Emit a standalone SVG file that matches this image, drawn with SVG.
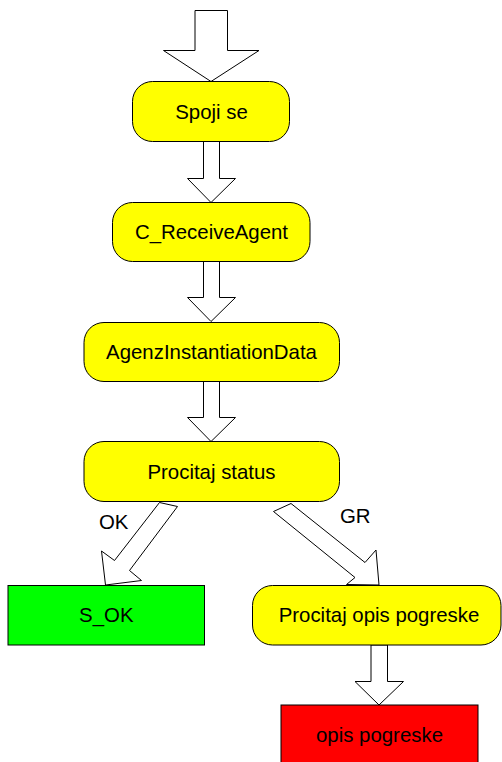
<svg xmlns="http://www.w3.org/2000/svg" width="502" height="762" viewBox="0 0 502 762">
  <style>
    .arrow { fill: #ffffff; stroke: #000000; stroke-width: 1; stroke-linejoin: miter; }
    .step { fill: #ffff00; stroke: #000000; stroke-width: 1; }
    .ok { fill: #00ff00; stroke: #000000; stroke-width: 1; }
    .err { fill: #ff0000; stroke: #000000; stroke-width: 1; }
    text { font-family: "Liberation Sans", Arial, sans-serif; font-size: 20.4px; fill: #000000; }
    .c { text-anchor: middle; }
  </style>
  <rect width="502" height="762" fill="#ffffff"/>

  <!-- block arrows between the steps -->
  <g id="connectors">
    <polygon class="arrow" points="195,10.5 227.5,10.5 227.5,50.5 259,50.5 211,81.5 163.5,50.5 195,50.5"/>
    <polygon class="arrow" points="203.5,141.5 219.5,141.5 219.5,178.5 235.5,178.5 211,202.5 187.5,178.5 203.5,178.5"/>
    <polygon class="arrow" points="203.5,261.5 219.5,261.5 219.5,297.5 235.5,297.5 211,321.5 187.5,297.5 203.5,297.5"/>
    <polygon class="arrow" points="203.5,381.5 219.5,381.5 219.5,417.5 235.5,417.5 211,441.5 187.5,417.5 203.5,417.5"/>
    <polygon class="arrow" points="159.5,502.5 177.5,506.5 129.5,570.5 141.5,580.5 105.5,585 101.5,551 114.5,560.5"/>
    <polygon class="arrow" points="273.5,511.5 291,503.5 365,562.5 376,550 379,585 346.5,584.5 355,577.5"/>
    <polygon class="arrow" points="371,645 387.5,645 387.5,681.5 403.5,681.5 379,705 355,681.5 371,681.5"/>
    <text x="99" y="529">OK</text>
    <text x="340" y="523">GR</text>
  </g>

  <g id="spoji-se">
    <rect class="step" x="132.5" y="81.5" width="157" height="60" rx="20" ry="20"/>
    <text class="c" x="211.5" y="119">Spoji se</text>
  </g>

  <g id="c-receive-agent">
    <rect class="step" x="112.5" y="202.5" width="197.5" height="59" rx="20" ry="20"/>
    <text class="c" x="211.5" y="239">C_ReceiveAgent</text>
  </g>

  <g id="agenz-instantiation-data">
    <rect class="step" x="84" y="322.5" width="255.5" height="59" rx="20" ry="20"/>
    <text class="c" x="211.5" y="359">AgenzInstantiationData</text>
  </g>

  <g id="procitaj-status">
    <rect class="step" x="84" y="441.5" width="255.5" height="60" rx="20" ry="20"/>
    <text class="c" x="211.5" y="479">Procitaj status</text>
  </g>

  <g id="s-ok">
    <rect class="ok" x="8" y="585.5" width="196.5" height="59.5"/>
    <text class="c" x="106.3" y="622">S_OK</text>
  </g>

  <g id="procitaj-opis-pogreske">
    <rect class="step" x="252.5" y="585.5" width="248.5" height="59.5" rx="20" ry="20"/>
    <text class="c" x="379" y="622">Procitaj opis pogreske</text>
  </g>

  <g id="opis-pogreske">
    <rect class="err" x="281" y="705" width="197" height="60"/>
    <text class="c" x="379.5" y="742">opis pogreske</text>
  </g>
</svg>
